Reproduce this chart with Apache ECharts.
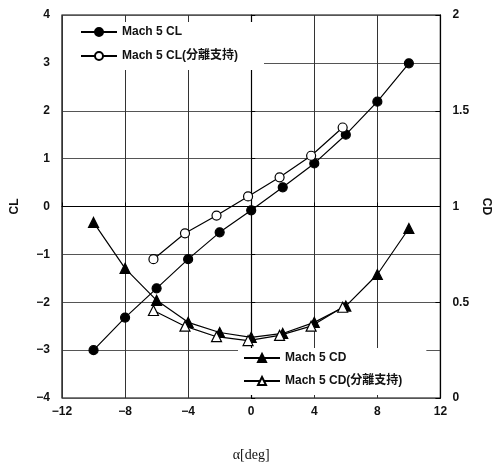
<!DOCTYPE html>
<html>
<head>
<meta charset="utf-8">
<script src="https://cdn.jsdelivr.net/npm/echarts@6/dist/echarts.min.js"></script>
<style>
  html, body { margin: 0; padding: 0; background: #fff; }
  #chart { width: 500px; height: 471px; }
</style>
</head>
<body>
<div id="chart"></div>
<script>
// Angle of attack [deg]
const alphaSolid = [-10, -8, -6, -4, -2, 0, 2, 4, 6, 8, 10];
const alphaSplit = [-6.2, -4.2, -2.2, -0.2, 1.8, 3.8, 5.8];

// Lift coefficient
const clMach5 = [-3.0, -2.32, -1.71, -1.10, -0.54, -0.08, 0.40, 0.90, 1.50, 2.19, 2.99];
const clMach5Split = [-1.10, -0.56, -0.19, 0.21, 0.61, 1.06, 1.65];

// Drag coefficient
const cdMach5 = [0.917, 0.677, 0.51, 0.395, 0.342, 0.317, 0.337, 0.395, 0.48, 0.645, 0.885];
const cdMach5Split = [0.457, 0.375, 0.32, 0.30, 0.327, 0.375, 0.474];

const seriesNames = ['Mach 5 CL', 'Mach 5 CL(分離支持)', 'Mach 5 CD', 'Mach 5 CD(分離支持)'];

const FONT = '"Liberation Sans", Arial, "Noto Sans CJK JP", sans-serif';
const pairs = (xs, ys) => xs.map((x, i) => [x, ys[i]]);
const minusFmt = v => (v < 0 ? '\u2212' + Math.abs(v) : String(v));

const chart = echarts.init(document.getElementById('chart'), null, { renderer: 'canvas' });

const lineSeries = (name, xs, ys, symbol, filled, yAxisIndex) => ({
  name,
  type: 'line',
  yAxisIndex,
  data: pairs(xs, ys),
  symbol,
  symbolSize: symbol === 'circle' ? 9 : 10,
  showSymbol: true,
  lineStyle: { color: '#000', width: 1.2 },
  itemStyle: { color: filled ? '#000' : '#fff', borderColor: '#000', borderWidth: 1.2 },
  emphasis: { disabled: true },
  animation: false
});

const legendCommon = {
  orient: 'vertical',
  backgroundColor: '#fff',
  itemWidth: 36,
  itemHeight: 10,
  textStyle: { fontFamily: FONT, fontSize: 12, fontWeight: 'bold', color: '#111' },
  selectedMode: false
};

chart.setOption({
  backgroundColor: '#fff',
  animation: false,
  grid: { left: 62, right: 55, top: 15, bottom: 73, show: true, borderColor: '#000', borderWidth: 1.2, backgroundColor: 'transparent' },
  legend: [
    Object.assign({}, legendCommon, {
      data: seriesNames.slice(0, 2), left: 63, top: 22, itemGap: 12, padding: [4, 26, 8, 17]
    }),
    Object.assign({}, legendCommon, {
      data: seriesNames.slice(2, 4), left: 238, top: 348, itemGap: 11, padding: [4, 24, 8, 5]
    })
  ],
  xAxis: {
    type: 'value', min: -12, max: 12, interval: 4,
    name: 'α[deg]', nameLocation: 'middle', nameGap: 50,
    nameTextStyle: { fontFamily: '"Liberation Serif", "DejaVu Serif", serif', fontSize: 14, color: '#111' },
    axisLine: { show: true, lineStyle: { color: '#000', width: 1.2 } },
    axisTick: { show: true, inside: true, length: 4, lineStyle: { color: '#000' } },
    axisLabel: { margin: 8, fontFamily: FONT, fontSize: 12, fontWeight: 'bold', color: '#111', formatter: minusFmt },
    splitLine: { show: true, lineStyle: { color: '#333', width: 1 } }
  },
  yAxis: [
    {
      type: 'value', min: -4, max: 4, interval: 1, position: 'left',
      name: 'CL', nameLocation: 'middle', nameGap: 41, nameRotate: 90,
      nameTextStyle: { fontFamily: FONT, fontSize: 12, fontWeight: 'bold', color: '#111' },
      axisLine: { show: true, lineStyle: { color: '#000', width: 1.2 } },
      axisTick: { show: true, inside: true, length: 4, lineStyle: { color: '#000' } },
      axisLabel: { margin: 12, fontFamily: FONT, fontSize: 12, fontWeight: 'bold', color: '#111', formatter: minusFmt },
      splitLine: { show: true, lineStyle: { color: '#555', width: 1 } }
    },
    {
      type: 'value', min: 0, max: 2, interval: 0.5, position: 'right',
      name: 'CD', nameLocation: 'middle', nameGap: 38, nameRotate: -90,
      nameTextStyle: { fontFamily: FONT, fontSize: 12, fontWeight: 'bold', color: '#111' },
      axisLine: { show: true, lineStyle: { color: '#000', width: 1.2 } },
      axisTick: { show: true, inside: true, length: 5, lineStyle: { color: '#000' } },
      axisLabel: { margin: 12, fontFamily: FONT, fontSize: 12, fontWeight: 'bold', color: '#111' },
      splitLine: { show: false }
    }
  ],
  series: [
    lineSeries(seriesNames[0], alphaSolid, clMach5, 'circle', true, 0),
    lineSeries(seriesNames[1], alphaSplit, clMach5Split, 'circle', false, 0),
    lineSeries(seriesNames[2], alphaSolid, cdMach5, 'triangle', true, 1),
    lineSeries(seriesNames[3], alphaSplit, cdMach5Split, 'triangle', false, 1)
  ]
});
</script>
</body>
</html>
